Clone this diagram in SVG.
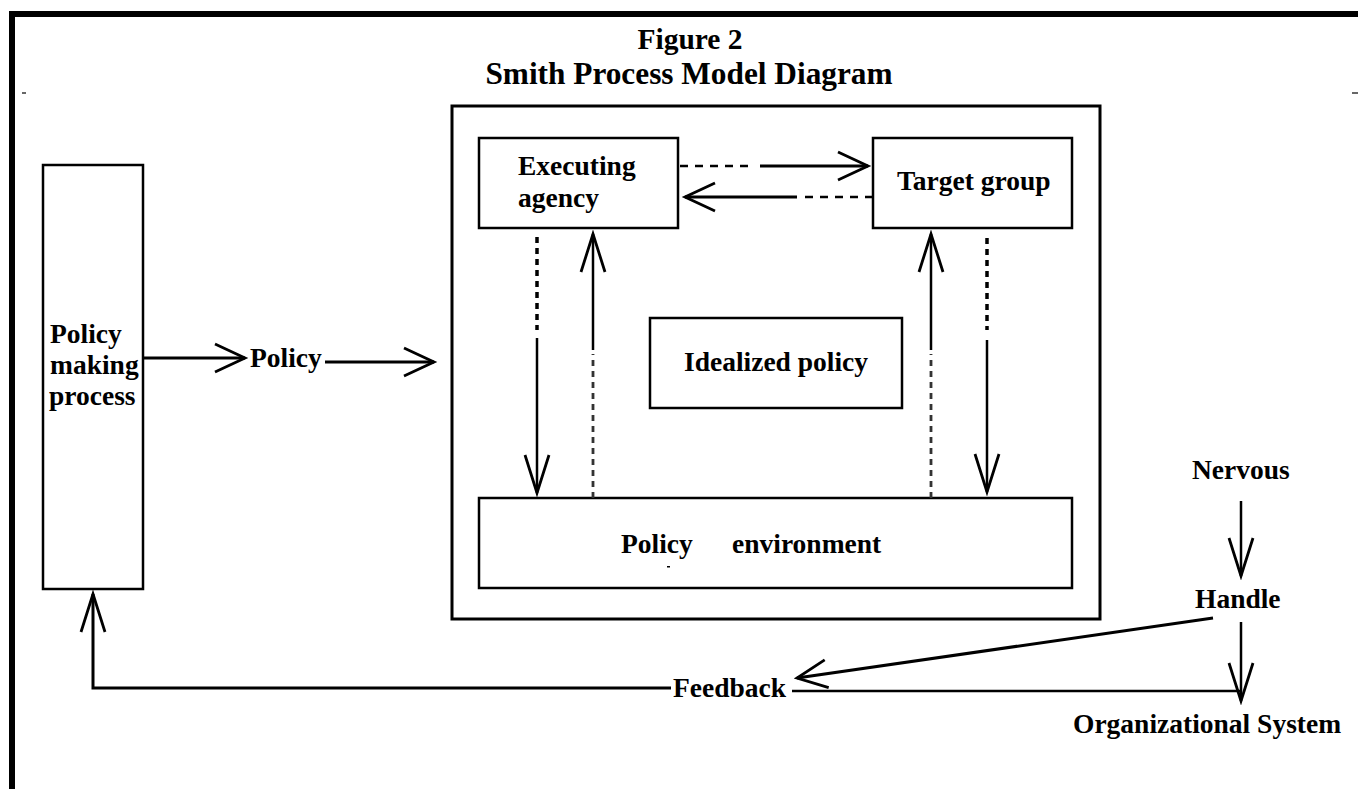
<svg xmlns="http://www.w3.org/2000/svg" width="1358" height="789" viewBox="0 0 1358 789">
<style>
text{font-family:"Liberation Serif","Times New Roman",serif;font-weight:bold;fill:#000}
.t{font-size:27.5px}
.title{font-size:30px}
.box{fill:#fff;stroke:#000;stroke-width:2.5}
.ln{fill:none;stroke:#000;stroke-width:2.5}
.thick{fill:none;stroke:#000;stroke-width:3}
.dh{fill:none;stroke:#000;stroke-width:2.3;stroke-dasharray:8 7}
.dv{fill:none;stroke:#000;stroke-width:3.5;stroke-dasharray:6 5}
.dg{fill:none;stroke:#333;stroke-width:2.8;stroke-dasharray:6 5}
</style>
<defs>
<marker id="ah" markerUnits="userSpaceOnUse" viewBox="-36 -18 40 36" markerWidth="40" markerHeight="36" refX="0" refY="0" orient="auto">
<path d="M-30,-14 L0,0 L-30,14" fill="none" stroke="#000" stroke-width="2.8"/>
</marker>
<marker id="av" markerUnits="userSpaceOnUse" viewBox="-42 -16 46 32" markerWidth="46" markerHeight="32" refX="0" refY="0" orient="auto">
<path d="M-38,-12 L0,0 L-38,12" fill="none" stroke="#000" stroke-width="2.8"/>
</marker>
</defs>
<rect width="1358" height="789" fill="#fff"/>
<g id="frame">
<line x1="9" y1="14" x2="1358" y2="14" stroke="#000" stroke-width="6"/>
<line x1="12" y1="11" x2="12" y2="789" stroke="#000" stroke-width="6"/>
<line x1="22" y1="93" x2="26" y2="93" stroke="#000" stroke-width="1.2"/>
<line x1="1352" y1="93" x2="1358" y2="93" stroke="#000" stroke-width="1.2"/>
</g>
<g id="title">
<text class="title" x="690" y="49" text-anchor="middle" style="font-size:29.5px">Figure 2</text>
<text class="title" x="689" y="84" text-anchor="middle" style="font-size:31.3px">Smith Process Model Diagram</text>
</g>
<g id="implementation">
<rect x="452" y="106" width="648" height="513" fill="none" stroke="#000" stroke-width="3"/>
</g>
<g id="policy-making-process">
<rect class="box" x="43" y="165" width="100" height="424" stroke-width="3"/>
<text class="t" x="50" y="343">Policy</text>
<text class="t" x="50" y="374">making</text>
<text class="t" x="49" y="405">process</text>
</g>
<g id="policy">
<text class="t" x="250" y="367">Policy</text>
</g>
<g id="executing-agency">
<rect class="box" x="479" y="138" width="199" height="90"/>
<text class="t" x="518" y="175">Executing</text>
<text class="t" x="518" y="207">agency</text>
</g>
<g id="target-group">
<rect class="box" x="873" y="138" width="199" height="90"/>
<text class="t" x="897" y="190">Target group</text>
</g>
<g id="idealized-policy">
<rect class="box" x="650" y="318" width="252" height="90"/>
<text class="t" x="776" y="371" text-anchor="middle">Idealized policy</text>
</g>
<g id="policy-environment">
<rect class="box" x="479" y="498" width="593" height="90"/>
<text class="t" x="621" y="553">Policy</text>
<text class="t" x="732" y="553">environment</text>
<rect x="667" y="566" width="3" height="1.5" fill="#000"/>
</g>
<g id="nervous"><text class="t" x="1192" y="479">Nervous</text></g>
<g id="handle"><text class="t" x="1195" y="608">Handle</text></g>
<g id="organizational-system"><text class="t" x="1073" y="733">Organizational System</text></g>
<g id="feedback"><text class="t" x="673" y="697">Feedback</text></g>
<g id="connectors">
<path class="thick" d="M143,358 H245" marker-end="url(#ah)"/>
<path class="thick" d="M325,362 H434" marker-end="url(#ah)"/>
<path class="dh" d="M680,166 H754"/>
<path class="thick" d="M760,166 H868" marker-end="url(#ah)"/>
<path class="dh" d="M873,197 H800"/>
<path class="thick" d="M797,197 H685" marker-end="url(#ah)"/>
<path class="dv" d="M537,237 V330"/>
<path class="ln" d="M537,338 V493" marker-end="url(#av)"/>
<path class="dg" d="M593,498 V354"/>
<path class="ln" d="M593,350 V234" marker-end="url(#av)"/>
<path class="dg" d="M931,498 V354"/>
<path class="ln" d="M931,350 V234" marker-end="url(#av)"/>
<path class="dv" d="M987,238 V330"/>
<path class="ln" d="M987,340 V492" marker-end="url(#av)"/>
<path class="ln" d="M1241,501 V576" marker-end="url(#av)"/>
<path class="ln" d="M1241,622 V701" marker-end="url(#av)"/>
<path class="thick" d="M1213,618 L797,678" marker-end="url(#ah)"/>
<path class="ln" d="M792,691 L1240,691"/>
<path class="thick" d="M671,688 H93 V594" marker-end="url(#av)"/>
</g>
</svg>
